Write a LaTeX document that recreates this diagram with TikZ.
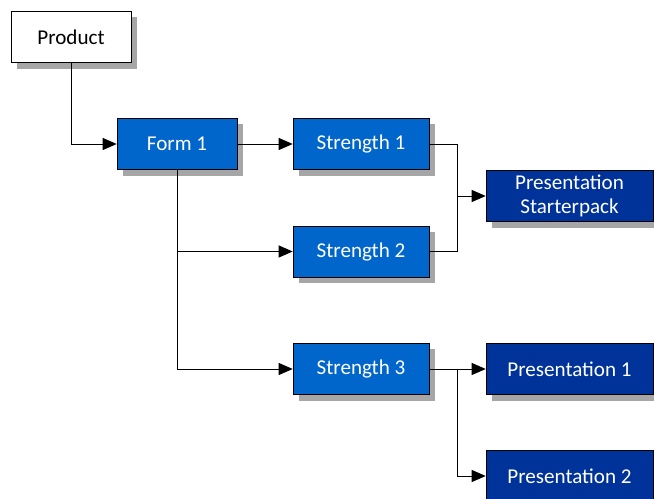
\documentclass[tikz,border=0pt]{standalone}
\usepackage{fontspec}
\setmainfont{Carlito}
\usetikzlibrary{positioning,arrows.meta,shadows}
\definecolor{formblue}{HTML}{0066CC}
\definecolor{presblue}{HTML}{003399}

\begin{document}
\begin{tikzpicture}[
    x=0.025cm, y=-0.025cm,
    box/.style={draw, rectangle, minimum height=1.275cm, align=center, inner sep=2pt,
        font=\fontsize{15}{17.5}\selectfont,
        drop shadow={shadow xshift=0.15cm, shadow yshift=-0.15cm, fill=black!35, opacity=1}},
    item/.style={box, fill=white, minimum width=3cm},
    form/.style={box, fill=formblue, text=white, minimum width=3cm},
    strength/.style={box, fill=formblue, text=white, minimum width=3.4cm},
    pres/.style={box, fill=presblue, text=white, minimum width=4.175cm},
    link/.style={-{Triangle[length=0.35cm, width=0.3cm]}, line width=0.7pt},
    wire/.style={line width=0.7pt}
]
\useasboundingbox (0,0) rectangle (654,499);

% Product and form
\node[item] (product) at (71,37) {Product};
\node[form] (form1) at (177,144) {Form 1};

% Strengths
\node[strength] (str1) at (361,144) {Strength 1};
\node[strength] (str2) at (361,251.5) {Strength 2};
\node[strength] (str3) at (361,369) {Strength 3};

% Presentations
\node[pres] (starter) at (569.5,196) {Presentation\\Starterpack};
\node[pres] (pres1) at (569.5,369) {Presentation 1};
\node[pres] (pres2) at (569.5,476) {Presentation 2};

% Branch points
\coordinate (sjoin) at (457,196);
\coordinate (pjoin) at (457,369);

% Arrows
\draw[link] (product.south) |- (form1.west);
\draw[link] (form1) -- (str1);
\draw[link] (form1.south) |- (str2.west);
\draw[link] (form1.south) |- (str3.west);
\draw[wire] (str1.east) -| (sjoin);
\draw[wire] (str2.east) -| (sjoin);
\draw[link] (sjoin) -- (starter.west);
\draw[link] (str3) -- (pres1);
\draw[link] (pjoin) |- (pres2.west);
\end{tikzpicture}
\end{document}
